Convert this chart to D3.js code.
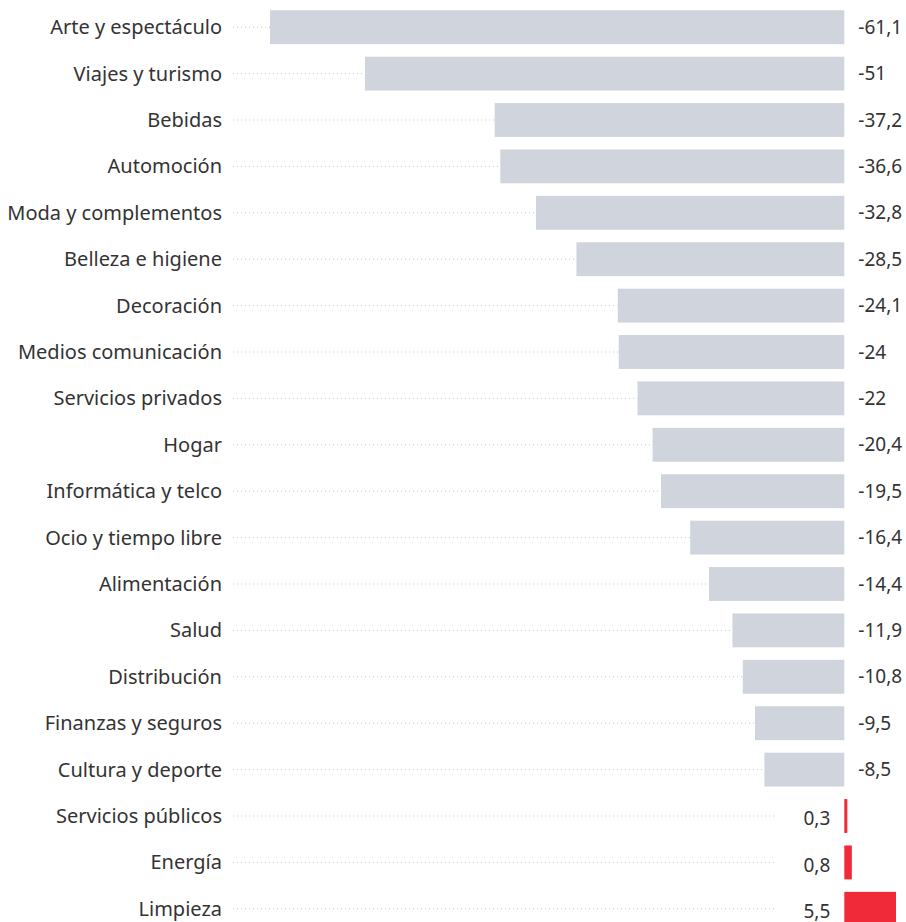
<!DOCTYPE html>
<html>
<head>
<meta charset="utf-8">
<script src="https://cdn.jsdelivr.net/npm/d3@7"></script>
<style>
  body { margin: 0; background: #fff; }
  svg text { font-family: "Noto Sans", sans-serif; fill: #333; }
</style>
</head>
<body>
<div id="chart"></div>
<script>
const categories = [
  'Arte y espectáculo', 'Viajes y turismo', 'Bebidas', 'Automoción',
  'Moda y complementos', 'Belleza e higiene', 'Decoración', 'Medios comunicación',
  'Servicios privados', 'Hogar', 'Informática y telco', 'Ocio y tiempo libre',
  'Alimentación', 'Salud', 'Distribución', 'Finanzas y seguros',
  'Cultura y deporte', 'Servicios públicos', 'Energía', 'Limpieza'
];
const values = [
  -61.1, -51, -37.2, -36.6, -32.8, -28.5, -24.1, -24, -22, -20.4,
  -19.5, -16.4, -14.4, -11.9, -10.8, -9.5, -8.5, 0.3, 0.8, 5.5
];

const width = 906, height = 922;
const data = categories.map((name, i) => ({ name, value: values[i] }));

const x = d3.scaleLinear().domain([-61.1, 5.5]).range([270, 896]);
const y = d3.scaleBand().domain(categories).range([4, 932]).paddingInner(0.27).paddingOuter(0.135);

const fmt = v => String(v).replace('.', ',');

const svg = d3.select('#chart').append('svg')
  .attr('width', width)
  .attr('height', height);

const rows = svg.append('g')
  .selectAll('g')
  .data(data)
  .enter()
  .append('g')
  .attr('transform', d => `translate(0, ${y(d.name)})`);

const mid = y.bandwidth() / 2;

// dotted guide lines
rows.append('line')
  .attr('x1', 233)
  .attr('x2', d => d.value < 0 ? x(d.value) : x(0) - 70)
  .attr('y1', mid)
  .attr('y2', mid)
  .attr('stroke', '#c8c8c8')
  .attr('stroke-width', 1)
  .attr('stroke-dasharray', '1,3');

rows.append('rect')
  .attr('x', d => x(Math.min(0, d.value)))
  .attr('width', d => Math.max(3, Math.abs(x(d.value) - x(0))))
  .attr('height', y.bandwidth())
  .attr('fill', d => d.value < 0 ? '#d0d5dd' : '#f12a3a');

rows.append('text')
  .attr('x', 222)
  .attr('y', mid)
  .attr('dy', '0.35em')
  .attr('text-anchor', 'end')
  .style('font-size', '20px')
  .text(d => d.name);

rows.append('text')
  .attr('x', d => d.value < 0 ? x(0) + 14 : x(0) - 14)
  .attr('y', d => d.value < 0 ? mid : mid + 2.5)
  .attr('dy', '0.35em')
  .attr('text-anchor', d => d.value < 0 ? 'start' : 'end')
  .style('font-size', '19px')
  .text(d => fmt(d.value));
</script>
</body>
</html>
